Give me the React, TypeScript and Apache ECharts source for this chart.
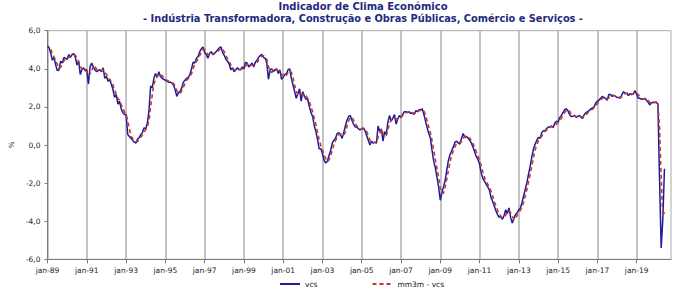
import React, { useEffect, useRef } from "react";
import * as echarts from "echarts";

// Portuguese month abbreviations (categories: monthly, jan-89 .. out-20)
const MONTH_NAMES = ["jan", "fev", "mar", "abr", "mai", "jun", "jul", "ago", "set", "out", "nov", "dez"];
const START_YEAR = 1989;
const AXIS_MONTHS = 382;

const TITLE = "Indicador de Clima Económico";
const SUBTITLE = "- Indústria Transformadora, Construção e Obras Públicas, Comércio e Serviços -";
const Y_TICKS = [-6, -4, -2, 0, 2, 4, 6];

// vcs, monthly values
const vcs1989_1993 = [
  5.2, 5.1, 4.8, 4.45, 4.6, 4.2, 3.9, 3.95, 4.4, 4.3, 4.6, 4.55,
  4.5, 4.75, 4.6, 4.75, 4.8, 4.6, 4.2, 4.4, 3.7, 3.95, 4.05, 3.9,
  3.9, 3.2, 4.1, 4.3, 4.1, 3.95, 3.85, 3.9, 3.95, 3.85, 4.05, 3.5,
  3.6, 3.35, 3.4, 3.2, 2.9, 2.5, 2.65, 2.15, 2.3, 1.9, 1.7, 1.6,
  1.6, 0.55, 0.45, 0.35, 0.25, 0.15, 0.1, 0.3, 0.4, 0.55, 0.65, 0.9,
];
const vcs1994_1998 = [
  0.85, 1.15, 1.8, 3.1, 3.0, 3.5, 3.75, 3.55, 3.85, 3.6, 3.5, 3.45,
  3.4, 3.35, 3.3, 3.3, 3.25, 3.15, 2.9, 2.55, 2.75, 2.8, 3.0, 3.3,
  3.4, 3.5, 3.55, 3.7, 4.0, 4.35, 4.3, 4.55, 4.65, 4.9, 5.05, 5.15,
  4.85, 4.75, 4.55, 4.8, 4.9, 4.75, 4.8, 4.9, 5.0, 5.1, 5.15, 4.85,
  4.7, 4.5, 4.4, 4.25, 3.95, 4.05, 3.85, 3.95, 4.05, 3.95, 3.95, 4.1,
];
const vcs1999_2003 = [
  4.0, 4.35, 4.3, 4.1, 4.2, 4.3, 4.1, 4.35, 4.45, 4.6, 4.7, 4.75,
  4.6, 4.55, 4.3, 3.45, 3.95, 4.0, 3.85, 3.95, 4.0, 3.75, 3.95, 3.45,
  3.55, 3.7, 3.75, 3.95, 4.0, 3.5, 3.15, 2.8, 2.45, 2.7, 2.95, 2.3,
  2.8, 2.55, 2.4, 2.4, 2.0, 1.7, 1.5, 1.0, 0.7, 0.3, -0.2, -0.2,
  -0.45, -0.8, -0.95, -0.85, -0.55, -0.3, 0.1, 0.25, 0.35, 0.6, 0.65, 0.55,
];
const vcs2004_2008 = [
  0.35, 0.65, 1.0, 1.3, 1.5, 1.55, 1.3, 1.1, 0.95, 0.95, 0.85, 0.8,
  0.85, 0.9, 0.75, 0.5, 0.25, 0.0, 0.2, 0.1, 0.15, 0.1, 1.0, 0.7,
  0.85, 0.2, 0.7, 0.55, 1.2, 1.55, 1.25, 1.4, 1.6, 1.1, 1.35, 1.55,
  1.45, 1.6, 1.75, 1.75, 1.7, 1.75, 1.65, 1.7, 1.6, 1.8, 1.75, 1.85,
  1.85, 1.9, 1.6, 1.25, 0.9, 0.6, 0.35, -0.3, -0.85, -1.2, -1.7, -2.2,
];
const vcs2009_2013 = [
  -2.9, -2.5, -2.2, -1.85, -1.3, -0.8, -0.5, -0.3, -0.1, 0.15, 0.2, 0.1,
  0.05, 0.35, 0.6, 0.4, 0.45, 0.35, 0.25, 0.1, -0.1, -0.35, -0.6, -0.75,
  -1.0, -1.45, -1.75, -1.9, -2.05, -2.2, -2.35, -2.75, -2.95, -3.2, -3.45, -3.65,
  -3.8, -3.75, -3.9, -3.7, -3.4, -3.6, -3.3, -3.8, -4.1, -3.85, -3.65, -3.55,
  -3.4, -3.3, -3.0, -2.65, -2.3, -1.95, -1.5, -1.1, -0.6, -0.2, 0.05, 0.25,
];
const vcs2014_2018 = [
  0.4, 0.35, 0.65, 0.75, 0.75, 0.85, 0.95, 0.95, 1.0, 0.9, 1.15, 1.25,
  1.2, 1.45, 1.55, 1.7, 1.85, 1.9, 1.8, 1.6, 1.5, 1.5, 1.55, 1.45,
  1.5, 1.55, 1.45, 1.4, 1.6, 1.7, 1.75, 1.8, 1.9, 1.95, 2.0, 2.2,
  2.3, 2.35, 2.45, 2.55, 2.5, 2.45, 2.35, 2.65, 2.65, 2.55, 2.6, 2.55,
  2.5, 2.5, 2.45, 2.65, 2.8, 2.7, 2.7, 2.6, 2.7, 2.65, 2.7, 2.85,
];
const vcs2019_2020 = [
  2.65, 2.45, 2.45, 2.4, 2.4, 2.45, 2.35, 2.25, 2.1, 2.2, 2.25, 2.25,
  2.25, 2.15, -1.8, -5.4, -3.9, -1.25,
];

export default function App() {
  const ref = useRef<HTMLDivElement>(null);

  useEffect(() => {
    document.body.style.margin = "0";
    if (!ref.current) return;
    const chart = echarts.init(ref.current, undefined, { renderer: "svg" });

    const categories: string[] = [];
    for (let i = 0; i < AXIS_MONTHS; i++) {
      const yy = (START_YEAR + Math.floor(i / 12)) % 100;
      categories.push(`${MONTH_NAMES[i % 12]}-${String(yy).padStart(2, "0")}`);
    }

    const vcs: (number | null)[] = [
      ...vcs1989_1993,
      ...vcs1994_1998,
      ...vcs1999_2003,
      ...vcs2004_2008,
      ...vcs2009_2013,
      ...vcs2014_2018,
      ...vcs2019_2020,
    ];
    // mm3m: 3-month moving average of vcs (definition of the series)
    const mm3m: (number | null)[] = vcs.map((v, i) =>
      i < 2 ? null : Math.round((((vcs[i] as number) + (vcs[i - 1] as number) + (vcs[i - 2] as number)) / 3) * 100) / 100
    );
    while (vcs.length < AXIS_MONTHS) vcs.push(null);
    while (mm3m.length < AXIS_MONTHS) mm3m.push(null);

    const font = "DejaVu Sans";
    const axisGray = "#7a7a7a";

    chart.setOption({
      animation: false,
      title: [
        {
          text: TITLE,
          left: 363,
          top: 1,
          textAlign: "center",
          padding: 0,
          textStyle: { fontSize: 10, fontWeight: "bold", color: "#1f2a80", fontFamily: font },
        },
        {
          text: SUBTITLE,
          left: 363,
          top: 13,
          textAlign: "center",
          padding: 0,
          textStyle: { fontSize: 9.8, fontWeight: "bold", color: "#1f2a80", fontFamily: font },
        },
      ],
      grid: {
        left: 40,
        right: 9,
        top: 30.7,
        bottom: 32.7,
        show: true,
        borderColor: "#a8a8a8",
        borderWidth: 1,
      },
      legend: {
        left: 279,
        top: 280,
        itemWidth: 20,
        itemHeight: 8,
        itemGap: 54,
        padding: 0,
        itemStyle: { opacity: 0 },
        textStyle: { fontSize: 7.5, fontFamily: font, color: "#222" },
        data: [{ name: "vcs" }, { name: "mm3m - vcs" }],
      },
      xAxis: {
        type: "category",
        data: categories,
        boundaryGap: false,
        axisLine: { onZero: false, lineStyle: { color: axisGray, width: 1 } },
        axisTick: { show: true, interval: 23, length: 4, lineStyle: { color: axisGray } },
        axisLabel: { interval: 23, fontSize: 7.5, fontFamily: font, color: "#222", margin: 7 },
        splitLine: { show: true, interval: 23, lineStyle: { color: "#b0b0b0", width: 1.5 } },
      },
      yAxis: {
        type: "value",
        min: Y_TICKS[0],
        max: Y_TICKS[Y_TICKS.length - 1],
        interval: 2,
        name: "%",
        nameLocation: "middle",
        nameGap: 32,
        nameRotate: 90,
        nameTextStyle: { fontSize: 7, fontFamily: font, color: "#222" },
        axisLine: { show: true, lineStyle: { color: axisGray, width: 1 } },
        axisTick: { show: true, length: 3, lineStyle: { color: axisGray } },
        axisLabel: {
          fontSize: 7.5,
          fontFamily: font,
          color: "#222",
          margin: 7,
          formatter: (v: number) => v.toFixed(1).replace(".", ","),
        },
        splitLine: { show: false },
      },
      series: [
        {
          name: "vcs",
          type: "line",
          data: vcs,
          symbol: "none",
          lineStyle: { color: "#1c1c9c", width: 1.5 },
          itemStyle: { color: "#1c1c9c" },
        },
        {
          name: "mm3m - vcs",
          type: "line",
          data: mm3m,
          symbol: "none",
          lineStyle: { color: "#c0392b", width: 1.6, type: [4, 3] },
          itemStyle: { color: "#c0392b" },
        },
      ],
    });

    return () => chart.dispose();
  }, []);

  return <div ref={ref} style={{ width: 680, height: 292 }} />;
}
